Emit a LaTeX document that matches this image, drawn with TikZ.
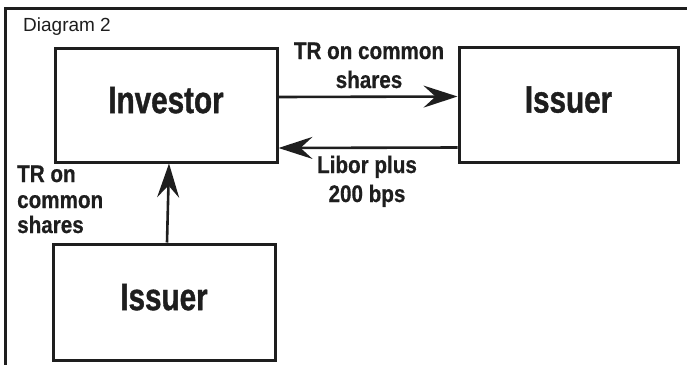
\documentclass[tikz,border=0pt]{standalone}
\usepackage{fontspec}
\setmainfont{Liberation Sans}
\newfontfamily\condfont{Liberation Sans Bold}[FakeStretch=0.86,FakeBold=0.6]
\newfontfamily\boxfont{Liberation Sans Bold}[FakeStretch=0.78,FakeBold=1]
\usetikzlibrary{arrows.meta}
\definecolor{ink}{HTML}{1E1E1E}

\tikzset{
  party/.style={draw=ink, line width=3pt, inner sep=0pt, text=ink,
    font=\boxfont\fontsize{38}{40}\selectfont, text depth=10pt},
  flow/.style={draw=ink, line width=2.6pt,
    -{Stealth[length=34pt,width=22pt,inset=12pt]}},
  lbl/.style={text=ink, inner sep=0pt, font=\condfont\fontsize{24}{28}\selectfont},
  title/.style={text=ink, inner sep=0pt, font=\fontsize{19}{22}\selectfont}
}

\begin{document}
\begin{tikzpicture}[x=1pt, y=-1pt]
  \useasboundingbox (0,0) rectangle (687,364);
  \clip (0,0) rectangle (687,364);

  % outer frame, open to the right and bottom
  \draw[ink, line width=3pt] (5,380) -- (5,8) -- (700,8);
  \node[title, anchor=base west] (cap) at (23,31) {Diagram 2};

  % parties
  \node[party, minimum width=222pt, minimum height=114pt] (inv) at (166,105) {Investor};
  \node[party, minimum width=219pt, minimum height=115pt] (iss) at (568.5,104.5) {Issuer};
  \node[party, minimum width=222pt, minimum height=116pt] (iss2) at (164,302) {Issuer};

  % payment flows
  \draw[flow] ([yshift=8pt]inv.east) -- ([yshift=8pt]iss.west);
  \draw[flow] ([yshift=-43pt]iss.west) -- ([yshift=-43pt]inv.east);
  \draw[flow] ([xshift=3pt]iss2.north) -- ([xshift=3pt]inv.south);

  % flow labels
  \node[lbl, anchor=base] (t1) at (369,59) {TR on common};
  \node[lbl, anchor=base] (t2) at (369,88) {shares};
  \node[lbl, anchor=base] (l1) at (367,173) {Libor plus};
  \node[lbl, anchor=base] (l2) at (367,202) {200 bps};
  \node[lbl, anchor=base west] (s1) at (17,182) {TR on};
  \node[lbl, anchor=base west] (s2) at (17,208) {common};
  \node[lbl, anchor=base west] (s3) at (17,233) {shares};
\end{tikzpicture}
\end{document}
